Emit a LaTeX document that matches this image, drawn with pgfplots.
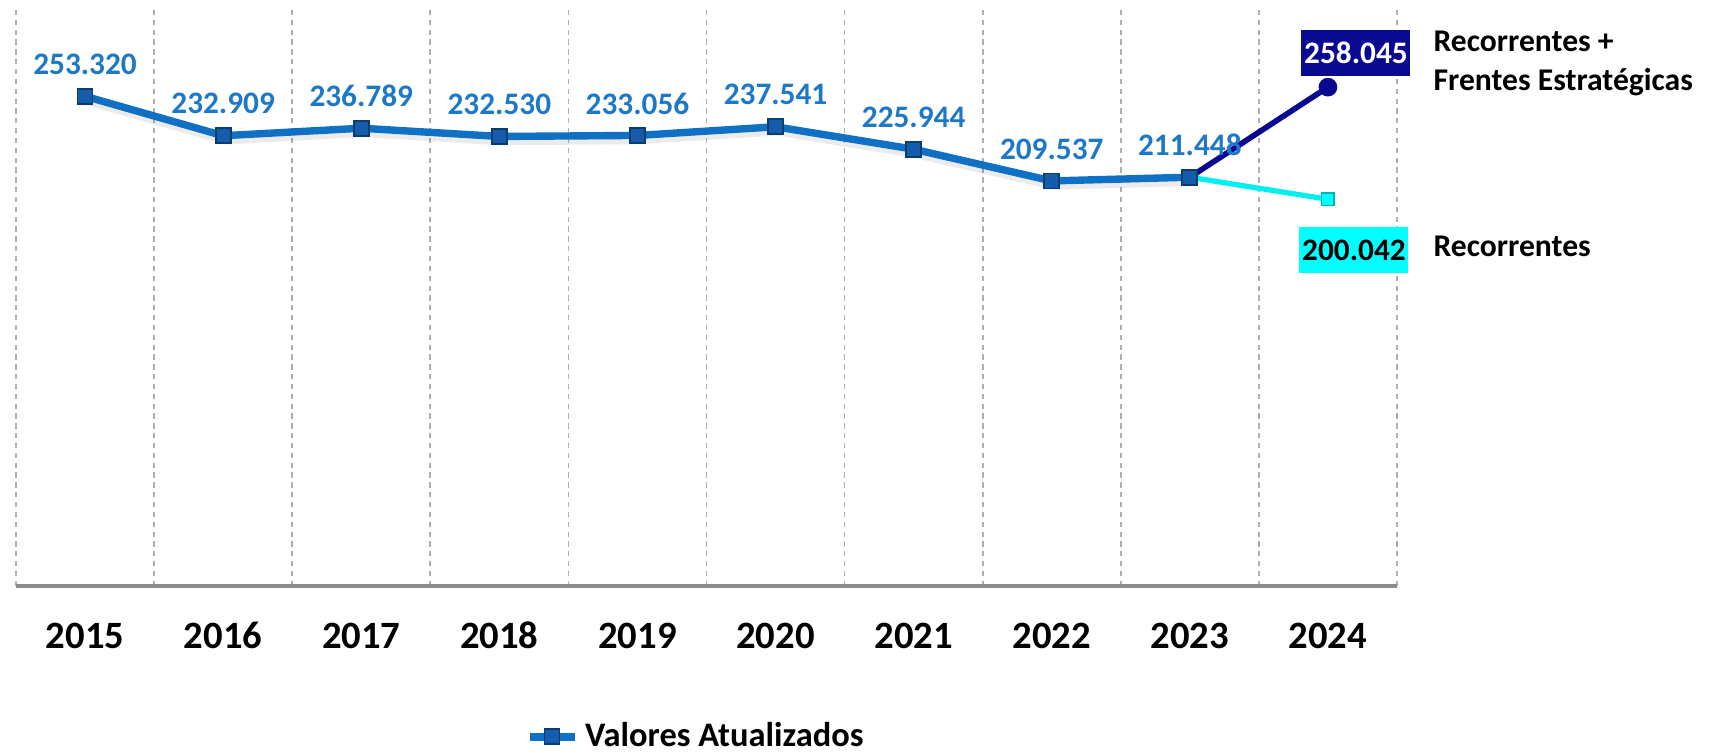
\documentclass[border=0pt]{standalone}
\usepackage{fontspec}
\setmainfont{Carlito}
\usepackage{pgfplots}
\pgfplotsset{compat=1.18}

\definecolor{mainblue}{RGB}{16,112,196}
\definecolor{labelblue}{RGB}{30,120,200}
\definecolor{markblue}{RGB}{22,92,172}
\definecolor{navyline}{RGB}{10,10,145}
\definecolor{cyanline}{RGB}{0,240,240}
\definecolor{cyanbox}{RGB}{0,255,255}
\definecolor{gridgray}{RGB}{175,175,175}

\newcommand{\lblfont}{\fontsize{8.9}{10.5}\selectfont\bfseries}
\newcommand{\sidefont}{\fontsize{9}{11}\selectfont\bfseries}

\begin{document}
\begin{tikzpicture}
\useasboundingbox (-1.6mm,-16.6mm) rectangle (169.5mm,58.6mm);
\begin{axis}[
    at={(0,0)}, anchor=south west,
    scale only axis,
    width=138.1mm, height=58mm,
    xmin=-0.5, xmax=9.5,
    ymin=0, ymax=300,
    axis x line*=bottom,
    axis y line=none,
    x axis line style={draw=gray!90, line width=1pt},
    ytick=\empty,
    xtick={0,1,2,3,4,5,6,7,8,9},
    xticklabels={2015,2016,2017,2018,2019,2020,2021,2022,2023,2024},
    minor xtick={-0.5,0.5,1.5,2.5,3.5,4.5,5.5,6.5,7.5,8.5,9.5},
    xminorgrids,
    minor x grid style={gridgray, dash pattern=on 1.5pt off 1.3pt, line width=0.5pt},
    major tick length=0pt,
    minor tick length=0pt,
    xticklabel style={font=\fontsize{11}{13}\selectfont\bfseries, anchor=base, yshift=-6.2mm},
    clip=false,
    /pgf/number format/assume math mode=true,
    legend style={at={(0.494,-0.26)}, anchor=center, draw=none, fill=none,
        font=\fontsize{9.8}{12}\selectfont\bfseries},
    legend image code/.code={%
        \draw[mark repeat=2,mark phase=2,#1] plot coordinates {(0mm,0mm) (2.25mm,0mm) (4.5mm,0mm)};},
]

% 2024 branches
\addplot[forget plot, navyline, line width=1.6pt, mark=*, mark size=0.65mm,
    mark indices={2}, mark options={fill=navyline, draw=navyline}]
    coordinates {(8,211.448) (9,258.045)};
\addplot[forget plot, cyanline, line width=1.5pt, mark=square*, mark size=0.62mm,
    mark indices={2}, mark options={fill=cyanbox, draw=cyanline!75!black, line width=0.4pt}]
    coordinates {(8,211.448) (9,200.042)};

% soft shadow of the main line
\addplot[forget plot, black, opacity=0.08, line width=2.4pt, yshift=-1.3pt, xshift=0.5pt]
    coordinates {(0,253.320) (1,232.909) (2,236.789) (3,232.530) (4,233.056)
                 (5,237.541) (6,225.944) (7,209.537) (8,211.448)};

% main series
\addplot[mainblue, line width=2.1pt, mark=square*, mark size=0.75mm,
    mark options={fill=markblue, draw=mainblue!55!black, line width=0.5pt},
    nodes near coords={\pgfmathprintnumber[fixed,fixed zerofill,precision=3]{\pgfplotspointmeta}},
    every node near coord/.append style={text=labelblue, font=\lblfont, anchor=center, yshift=3.2mm}]
    coordinates {(0,253.320) (1,232.909) (2,236.789) (3,232.530) (4,233.056)
                 (5,237.541) (6,225.944) (7,209.537) (8,211.448)};
\addlegendentry{Valores Atualizados}

% 2024 labels
\addplot[forget plot, draw=none,
    nodes near coords={\pgfmathprintnumber[fixed,fixed zerofill,precision=3]{\pgfplotspointmeta}},
    every node near coord/.append style={fill=navyline, text=white, font=\lblfont, anchor=center,
        xshift=2.8mm, yshift=3.4mm, minimum width=10.9mm, minimum height=4.6mm, inner sep=0pt}]
    coordinates {(9,258.045)};
\addplot[forget plot, draw=none,
    nodes near coords={\pgfmathprintnumber[fixed,fixed zerofill,precision=3]{\pgfplotspointmeta}},
    every node near coord/.append style={fill=cyanbox, text=black, font=\lblfont, anchor=center,
        xshift=2.6mm, yshift=-5.1mm, minimum width=10.9mm, minimum height=4.6mm, inner sep=0pt}]
    coordinates {(9,200.042)};

\node[anchor=base west, inner sep=0pt, font=\sidefont] at (rel axis cs:1.026,0.921) {Recorrentes +};
\node[anchor=base west, inner sep=0pt, font=\sidefont] at (rel axis cs:1.026,0.855) {Frentes Estratégicas};
\node[anchor=base west, inner sep=0pt, font=\sidefont] at (rel axis cs:1.026,0.568) {Recorrentes};
\end{axis}
\end{tikzpicture}
\end{document}
